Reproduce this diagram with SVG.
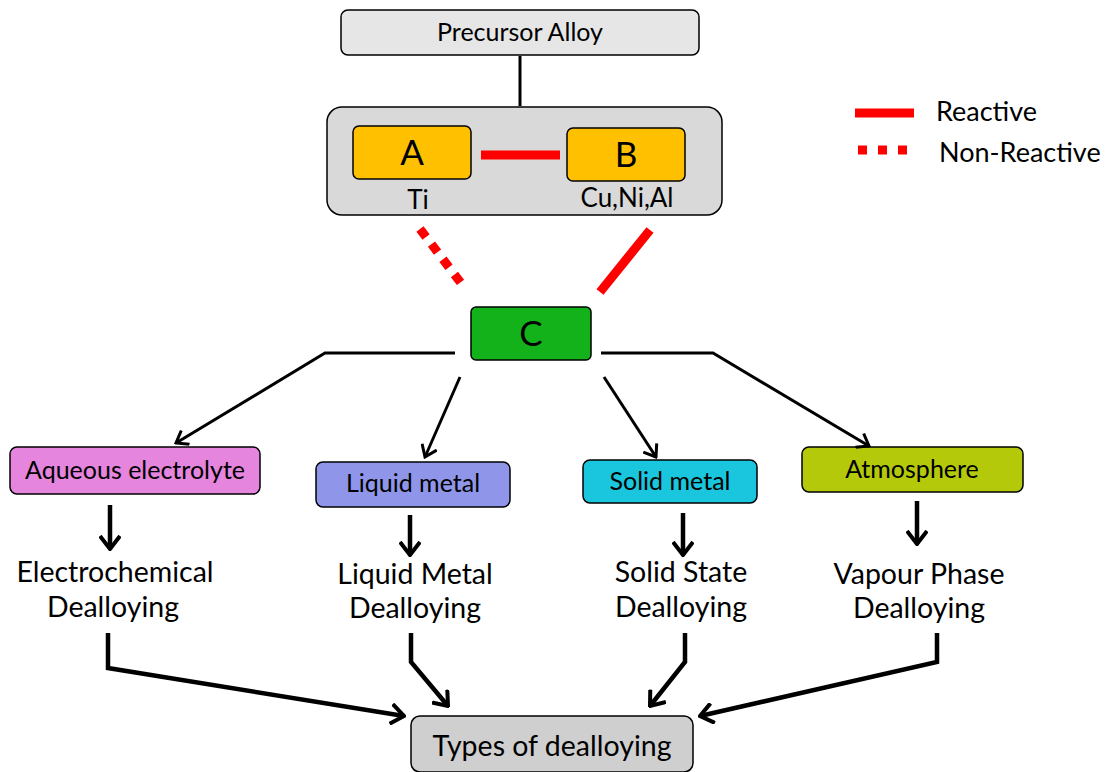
<svg xmlns="http://www.w3.org/2000/svg" width="1107" height="772" viewBox="0 0 1107 772">
<defs>
<style>
text{font-family:Lato,"Open Sans","Liberation Sans",sans-serif;fill:#000;text-anchor:middle}
.box{stroke:#000;stroke-width:1.5}
.ln{stroke:#000;stroke-width:3;fill:none}
.thk{stroke:#000;stroke-width:4.5;fill:none}
.red{stroke:#f00;stroke-width:9;fill:none}
.lbl{font-size:28.5px}
.nd{font-size:25px}
</style>
<marker id="ah" viewBox="0 0 14 18" refX="12" refY="9" markerWidth="14" markerHeight="18" markerUnits="userSpaceOnUse" orient="auto">
<path d="M1,1 L12,9 L1,17" fill="none" stroke="#000" stroke-width="3"/>
</marker>
<marker id="ahb" viewBox="0 0 16 22" refX="14" refY="11" markerWidth="16" markerHeight="22" markerUnits="userSpaceOnUse" orient="auto">
<path d="M1,1 L14,11 L1,21" fill="none" stroke="#000" stroke-width="4"/>
</marker>
</defs>
<rect width="1107" height="772" fill="#fff"/>
<g id="legend">
<line class="red" x1="855" y1="113" x2="914" y2="113"/>
<text x="936" y="121" font-size="27" style="text-anchor:start">Reactive</text>
<line class="red" x1="858" y1="150" x2="908" y2="150" stroke-dasharray="9,11"/>
<text x="939" y="162" font-size="27" style="text-anchor:start">Non-Reactive</text>
</g>
<g id="precursor">
<rect class="box" x="341" y="10" width="358" height="45" rx="7" fill="#e6e6e6"/>
<text x="520" y="41" font-size="25">Precursor Alloy</text>
</g>
<g id="alloy">
<rect class="box" x="327" y="107" width="395" height="108" rx="15" fill="#d9d9d9"/>
<text x="418" y="209" font-size="26">Ti</text>
<text x="627" y="207" font-size="26">Cu,Ni,Al</text>
</g>
<g id="nodeA">
<rect class="box" x="353" y="126" width="118" height="53" rx="6" fill="#ffc000"/>
<text x="412" y="165" font-size="35">A</text>
</g>
<g id="nodeB">
<rect class="box" x="567" y="128" width="118" height="53" rx="6" fill="#ffc000"/>
<text x="626" y="167" font-size="35">B</text>
</g>
<g id="nodeC">
<rect class="box" x="471" y="307" width="120" height="53" rx="5" fill="#13b21b"/>
<text x="531" y="346" font-size="35">C</text>
</g>
<g id="aqueous">
<rect class="box" x="10" y="447" width="250" height="47" rx="7" fill="#e585dd"/>
<text class="nd" x="135" y="479">Aqueous electrolyte</text>
</g>
<g id="liquid">
<rect class="box" x="316" y="462" width="194" height="45" rx="7" fill="#8f96ea"/>
<text class="nd" x="413" y="492">Liquid metal</text>
</g>
<g id="solid">
<rect class="box" x="583" y="460" width="174" height="43" rx="7" fill="#19c6dd"/>
<text class="nd" x="670" y="490">Solid metal</text>
</g>
<g id="atmosphere">
<rect class="box" x="802" y="447" width="221" height="45" rx="7" fill="#b5c90b"/>
<text class="nd" x="912" y="478">Atmosphere</text>
</g>
<g id="electrochemical">
<text class="lbl" x="115" y="582">Electrochemical</text>
<text class="lbl" x="113" y="617">Dealloying</text>
</g>
<g id="liquidDealloy">
<text class="lbl" x="415" y="584">Liquid Metal</text>
<text class="lbl" x="415" y="618">Dealloying</text>
</g>
<g id="solidDealloy">
<text class="lbl" x="681" y="582">Solid State</text>
<text class="lbl" x="681" y="617">Dealloying</text>
</g>
<g id="vapourDealloy">
<text class="lbl" x="919" y="584">Vapour Phase</text>
<text class="lbl" x="919" y="618">Dealloying</text>
</g>
<g id="types">
<rect class="box" x="411" y="716" width="282" height="56" rx="9" fill="#d0cfd0"/>
<text x="552" y="756" font-size="28.5">Types of dealloying</text>
</g>
<g id="connectors">
<line class="ln" x1="520" y1="56" x2="520" y2="106"/>
<line class="red" x1="481" y1="155" x2="560" y2="155"/>
<line class="red" x1="420" y1="229" x2="464" y2="287" stroke-dasharray="10,9"/>
<line class="red" x1="650" y1="230" x2="600" y2="292"/>
<polyline class="ln" points="455,353 325,353 176,443" marker-end="url(#ah)"/>
<polyline class="ln" points="601,353 713,353 869,446" marker-end="url(#ah)"/>
<line class="ln" x1="460" y1="377" x2="425" y2="457" marker-end="url(#ah)"/>
<line class="ln" x1="604" y1="377" x2="656" y2="457" marker-end="url(#ah)"/>
<line class="thk" x1="110" y1="505" x2="110" y2="549" marker-end="url(#ahb)"/>
<line class="thk" x1="410" y1="515" x2="410" y2="555" marker-end="url(#ahb)"/>
<line class="thk" x1="683" y1="513" x2="683" y2="555" marker-end="url(#ahb)"/>
<line class="thk" x1="917" y1="501" x2="917" y2="544" marker-end="url(#ahb)"/>
<polyline class="thk" points="108,633 108,668 404,716" marker-end="url(#ahb)"/>
<polyline class="thk" points="411,633 411,662 448,706" marker-end="url(#ahb)"/>
<polyline class="thk" points="685,633 685,662 650,706" marker-end="url(#ahb)"/>
<polyline class="thk" points="937,633 937,662 700,716" marker-end="url(#ahb)"/>
</g>
</svg>
